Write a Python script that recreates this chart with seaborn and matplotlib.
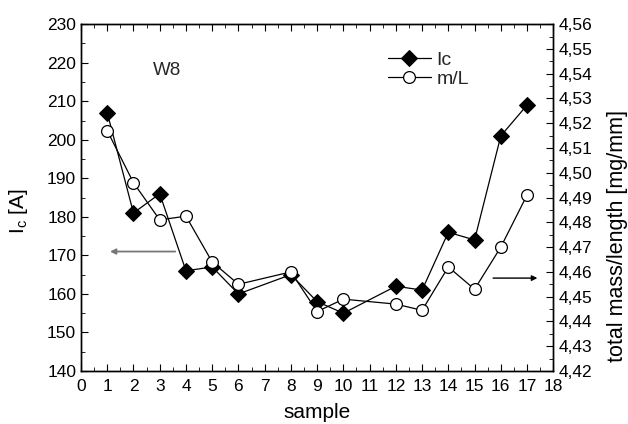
import matplotlib
matplotlib.use("Agg")
import matplotlib.pyplot as plt
from matplotlib.ticker import MultipleLocator, FuncFormatter
import seaborn as sns

sns.set_style("ticks")
plt.rcParams["font.family"] = ["Liberation Sans", "DejaVu Sans"]

# samples (7 and 11 missing)
samples = [1, 2, 3, 4, 5, 6, 8, 9, 10, 12, 13, 14, 15, 16, 17]
ic = [207, 181, 186, 166, 167, 160, 165, 158, 155, 162, 161, 176, 174, 201, 209]
mass_len = [4.517, 4.496, 4.481, 4.4825, 4.464, 4.455, 4.460, 4.444, 4.449,
            4.447, 4.4445, 4.462, 4.453, 4.470, 4.491]

fig = plt.figure(figsize=(6.28, 4.24), dpi=100)
ax = fig.add_axes([0.129, 0.125, 0.752, 0.818])
ax2 = ax.twinx()

sns.lineplot(x=samples, y=ic, ax=ax, color="black", lw=0.9, marker="D",
             markersize=8, markerfacecolor="black", markeredgecolor="black",
             label="Ic", legend=False)
sns.lineplot(x=samples, y=mass_len, ax=ax2, color="black", lw=0.9, marker="o",
             markersize=8.5, markerfacecolor="white", markeredgecolor="black",
             markeredgewidth=0.9, label="m/L", legend=False)

ax.set_xlim(0, 18)
ax.set_ylim(140, 230)
ax2.set_ylim(4.42, 4.56)

ax.xaxis.set_major_locator(MultipleLocator(1))
ax.xaxis.set_minor_locator(MultipleLocator(0.5))
ax.yaxis.set_major_locator(MultipleLocator(10))
ax.yaxis.set_minor_locator(MultipleLocator(5))
ax2.yaxis.set_major_locator(MultipleLocator(0.01))
ax2.yaxis.set_minor_locator(MultipleLocator(0.005))
ax2.yaxis.set_major_formatter(FuncFormatter(lambda v, p: f"{v:.2f}".replace(".", ",")))

for a in (ax, ax2):
    for s in a.spines.values():
        s.set_visible(True)
        s.set_linewidth(1.0)
        s.set_color("black")
ax.tick_params(axis="both", which="both", direction="in", top=True, labelsize=12.5,
               colors="black")
ax.tick_params(axis="x", pad=6)
ax.tick_params(which="major", length=5)
ax.tick_params(which="minor", length=3)
ax2.tick_params(axis="y", which="both", direction="in", labelsize=12.5, colors="black")
ax2.tick_params(which="major", length=5)
ax2.tick_params(which="minor", length=3)

ax.set_xlabel("sample", fontsize=15, color="black", labelpad=6)
ax.set_ylabel("I$_\\mathregular{c}$ [A]", fontsize=15, color="black")
ax2.set_ylabel("total mass/length [mg/mm]", fontsize=15.5, color="black")
ax.yaxis.set_label_coords(-0.108, 0.46)
ax2.yaxis.set_label_coords(1.114, 0.39)

ax.text(2.75, 218.1, "W8", fontsize=13.5, va="center")

ax.annotate("", xy=(1.0, 171), xytext=(3.7, 171),
            arrowprops=dict(arrowstyle="-|>", color="#777777", lw=1.3, mutation_scale=8))
ax2.annotate("", xy=(17.5, 4.4575), xytext=(15.6, 4.4575),
             arrowprops=dict(arrowstyle="-|>", color="black", lw=1.0, mutation_scale=8))

h1, l1 = ax.get_legend_handles_labels()
h2, l2 = ax2.get_legend_handles_labels()
ax.legend(h1 + h2, l1 + l2, loc="upper left", bbox_to_anchor=(0.625, 0.955),
          frameon=False, fontsize=14, handlelength=2.2, handletextpad=0.3,
          labelspacing=0.05, borderaxespad=0.2)

fig.savefig("out.png", dpi=100)
